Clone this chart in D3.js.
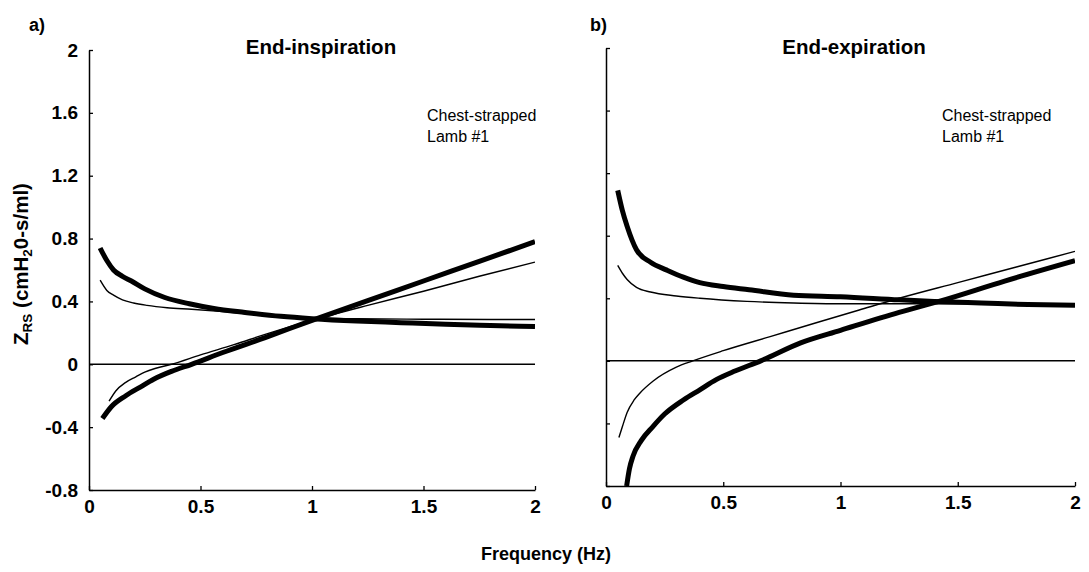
<!DOCTYPE html>
<html>
<head>
<meta charset="utf-8">
<script src="https://cdn.jsdelivr.net/npm/d3@7"></script>
<style>
  html, body { margin: 0; padding: 0; background: #fff; }
  svg { display: block; }
  text { font-family: "Liberation Sans", Arial, sans-serif; fill: #000; }
</style>
</head>
<body>
<svg id="chart" width="1089" height="572"></svg>
<script>
// Axis ticks
const freqTicks = [0, 0.5, 1, 1.5, 2];
const zTicks = [-0.8, -0.4, 0, 0.4, 0.8, 1.2, 1.6, 2];

// End-inspiration: resistance (falling) and reactance (rising), thick and thin traces
const inspThickResF = [0.05, 0.08, 0.11, 0.15, 0.19, 0.25, 0.34, 0.45, 0.56, 0.7, 0.86, 1.0, 1.2, 1.4, 1.6, 1.8, 2.0];
const inspThickRes  = [0.74, 0.66, 0.60, 0.56, 0.53, 0.48, 0.425, 0.385, 0.355, 0.33, 0.305, 0.29, 0.275, 0.265, 0.255, 0.247, 0.24];
const inspThinResF  = [0.05, 0.08, 0.11, 0.15, 0.2, 0.26, 0.35, 0.46, 0.6, 0.8, 1.0, 1.2, 1.5, 1.8, 2.0];
const inspThinRes   = [0.535, 0.47, 0.44, 0.41, 0.39, 0.375, 0.36, 0.35, 0.335, 0.31, 0.295, 0.29, 0.287, 0.285, 0.285];
const inspThickReaF = [0.06, 0.1, 0.165, 0.23, 0.29, 0.37, 0.46, 0.6, 0.79, 1.0, 1.25, 1.5, 1.75, 2.0];
const inspThickRea  = [-0.345, -0.27, -0.20, -0.145, -0.095, -0.045, 0.0, 0.075, 0.17, 0.28, 0.405, 0.53, 0.655, 0.78];
const inspThinReaF  = [0.09, 0.12, 0.165, 0.21, 0.25, 0.3, 0.37, 0.5, 0.65, 0.79, 1.0, 1.25, 1.5, 1.75, 2.0];
const inspThinRea   = [-0.235, -0.17, -0.115, -0.08, -0.05, -0.025, 0.0, 0.06, 0.125, 0.19, 0.28, 0.375, 0.465, 0.56, 0.65];

// End-expiration
const expThickResF = [0.05, 0.07, 0.09, 0.13, 0.19, 0.26, 0.33, 0.4, 0.5, 0.61, 0.8, 1.0, 1.25, 1.4, 1.6, 1.8, 2.0];
const expThickRes  = [1.09, 0.96, 0.86, 0.71, 0.63, 0.58, 0.535, 0.50, 0.475, 0.455, 0.42, 0.41, 0.39, 0.38, 0.37, 0.36, 0.355];
const expThinResF  = [0.05, 0.07, 0.09, 0.13, 0.19, 0.3, 0.4, 0.6, 0.8, 1.0, 1.5, 2.0];
const expThinRes   = [0.61, 0.56, 0.52, 0.47, 0.44, 0.415, 0.40, 0.38, 0.37, 0.365, 0.365, 0.365];
const expThickReaF = [0.088, 0.1, 0.115, 0.15, 0.2, 0.25, 0.33, 0.4, 0.47, 0.55, 0.66, 0.83, 1.0, 1.25, 1.42, 1.7, 2.0];
const expThickRea  = [-0.8, -0.69, -0.61, -0.51, -0.42, -0.34, -0.25, -0.185, -0.12, -0.065, 0.0, 0.115, 0.195, 0.31, 0.38, 0.51, 0.64];
const expThinReaF  = [0.055, 0.07, 0.09, 0.12, 0.145, 0.2, 0.3, 0.37, 0.5, 0.7, 0.9, 1.08, 1.25, 1.5, 1.75, 2.0];
const expThinRea   = [-0.49, -0.42, -0.33, -0.25, -0.205, -0.13, -0.04, 0.0, 0.065, 0.155, 0.245, 0.325, 0.40, 0.50, 0.60, 0.70];

const zip = (fs, vs) => fs.map((f, i) => [f, vs[i]]);

const panels = [
  {
    tag: "a)", title: "End-inspiration", showYLabels: true,
    xRange: [89, 535], yRange: [490, 50], tagX: 29, titleX: 321, noteX: 427,
    series: [
      { pts: zip(inspThinResF, inspThinRes), w: 1.4 },
      { pts: zip(inspThinReaF, inspThinRea), w: 1.4 },
      { pts: zip(inspThickResF, inspThickRes), w: 5 },
      { pts: zip(inspThickReaF, inspThickRea), w: 5 }
    ]
  },
  {
    tag: "b)", title: "End-expiration", showYLabels: false,
    xRange: [606, 1075], yRange: [486, 48], tagX: 590, titleX: 854, noteX: 942,
    series: [
      { pts: zip(expThinResF, expThinRes), w: 1.4 },
      { pts: zip(expThinReaF, expThinRea), w: 1.4 },
      { pts: zip(expThickResF, expThickRes), w: 5 },
      { pts: zip(expThickReaF, expThickRea), w: 5 }
    ]
  }
];

const svg = d3.select("#chart");
svg.append("rect").attr("width", 1089).attr("height", 572).attr("fill", "#fff");

panels.forEach(p => {
  const x = d3.scaleLinear().domain([0, 2]).range(p.xRange);
  const y = d3.scaleLinear().domain([-0.8, 2]).range(p.yRange);
  const g = svg.append("g");

  // zero reference line
  g.append("line")
    .attr("x1", x(0)).attr("x2", x(2))
    .attr("y1", y(0)).attr("y2", y(0))
    .attr("stroke", "#000").attr("stroke-width", 1.5);

  const clipId = "clip-" + p.tag.charAt(0);
  svg.append("clipPath").attr("id", clipId)
    .append("rect")
    .attr("x", x(0)).attr("y", y(2))
    .attr("width", x(2) - x(0)).attr("height", y(-0.8) - y(2));

  const line = d3.line()
    .x(d => x(d[0])).y(d => y(d[1]))
    .curve(d3.curveMonotoneX);

  p.series.forEach(s => {
    g.append("path")
      .attr("clip-path", `url(#${clipId})`)
      .attr("d", line(s.pts))
      .attr("fill", "none")
      .attr("stroke", "#000")
      .attr("stroke-width", s.w)
      .attr("stroke-linejoin", "round")
      .attr("stroke-linecap", "butt");
  });

  // axes: inward ticks, left and bottom only
  const yAxis = d3.axisLeft(y).tickValues(zTicks).tickSize(-4).tickSizeOuter(0).tickPadding(11)
    .tickFormat(p.showYLabels ? (d => String(d)) : () => "");
  const xAxis = d3.axisBottom(x).tickValues(freqTicks).tickSize(-4).tickSizeOuter(0).tickPadding(10)
    .tickFormat(d => String(d));

  const ya = g.append("g").attr("transform", `translate(${x(0)},0)`).call(yAxis);
  const xa = g.append("g").attr("transform", `translate(0,${y(-0.8)})`).call(xAxis);
  [ya, xa].forEach(a => {
    a.selectAll("path.domain").attr("stroke", "#000").attr("stroke-width", 1.5);
    a.selectAll(".tick line").attr("stroke", "#000").attr("stroke-width", 1.3);
    a.selectAll(".tick text")
      .style("font-family", "'Liberation Sans', Arial, sans-serif")
      .style("font-size", "19px").style("font-weight", "bold")
      .attr("fill", "#000");
  });

  // panel letter, title and annotation
  svg.append("text").attr("x", p.tagX).attr("y", 31)
    .style("font-size", "18px").style("font-weight", "bold").text(p.tag);
  svg.append("text").attr("x", p.titleX).attr("y", 54).attr("text-anchor", "middle")
    .style("font-size", "20.5px").style("font-weight", "bold").text(p.title);
  svg.append("text").attr("x", p.noteX).attr("y", 121)
    .style("font-size", "16px").text("Chest-strapped");
  svg.append("text").attr("x", p.noteX).attr("y", 142)
    .style("font-size", "16px").text("Lamb #1");
});

// shared axis titles
svg.append("text").attr("x", 546).attr("y", 560).attr("text-anchor", "middle")
  .style("font-size", "18px").style("font-weight", "bold").text("Frequency (Hz)");

const yt = svg.append("text")
  .attr("transform", "translate(28,264) rotate(-90)")
  .attr("text-anchor", "middle")
  .style("font-size", "20.5px").style("font-weight", "bold");
yt.append("tspan").text("Z");
yt.append("tspan").attr("dy", 4).style("font-size", "13.5px").text("RS");
yt.append("tspan").attr("dy", -4).text(" (cmH");
yt.append("tspan").attr("dy", 4).style("font-size", "13.5px").text("2");
yt.append("tspan").attr("dy", -4).text("0-s/ml)");
</script>
</body>
</html>
